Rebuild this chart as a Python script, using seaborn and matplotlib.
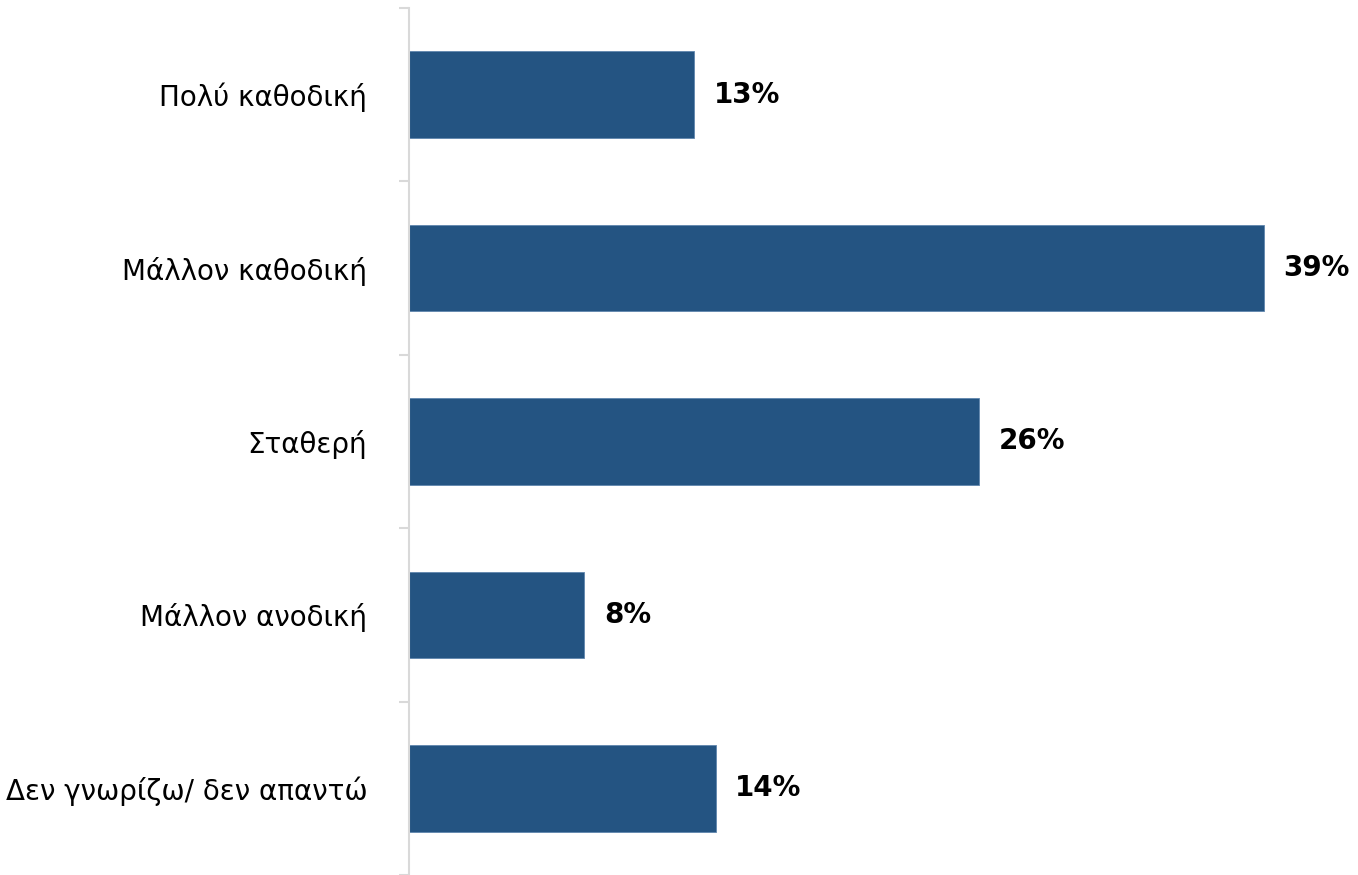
import matplotlib
matplotlib.use("Agg")
import matplotlib.pyplot as plt
import seaborn as sns
import pandas as pd
from matplotlib.ticker import FixedLocator

categories = ["Πολύ καθοδική", "Μάλλον καθοδική", "Σταθερή", "Μάλλον ανοδική", "Δεν γνωρίζω/ δεν απαντώ"]
values = [13, 39, 26, 8, 14]
value_labels = ["13%", "39%", "26%", "8%", "14%"]

df = pd.DataFrame({"cat": categories, "val": values})

sns.set_style("white")
plt.rcParams['font.family'] = ['DejaVu Sans']

fig = plt.figure(figsize=(13.58, 8.75), dpi=100)
ax = fig.add_axes([409/1358, 0.0, (1345-409)/1358, 867/875])

sns.barplot(data=df, x="val", y="cat", orient="h", color="#245482",
            width=0.5, saturation=1, ax=ax, edgecolor="#5f86ad", linewidth=0.6)

ax.set_xlim(0, 42.7)
ax.set_ylim(4.5, -0.5)
ax.set_xlabel("")
ax.set_ylabel("")
ax.set_xticks([])

for s in ["top", "right", "bottom"]:
    ax.spines[s].set_visible(False)
ax.spines["left"].set_color("#d9d9d9")
ax.spines["left"].set_linewidth(1.5)

ax.yaxis.set_minor_locator(FixedLocator([-0.5, 0.5, 1.5, 2.5, 3.5, 4.5]))
ax.tick_params(axis="y", which="major", length=0, pad=30, labelsize=20, labelcolor="black")
ax.tick_params(axis="y", which="minor", length=7, width=1.5, color="#d9d9d9", left=True)

for i, (v, lab) in enumerate(zip(values, value_labels)):
    ax.annotate(lab, xy=(v, i), xytext=(14, 0), textcoords="offset points",
                ha="left", va="center", fontsize=20, fontweight="bold", color="black")

fig.savefig("out.png", dpi=100)
